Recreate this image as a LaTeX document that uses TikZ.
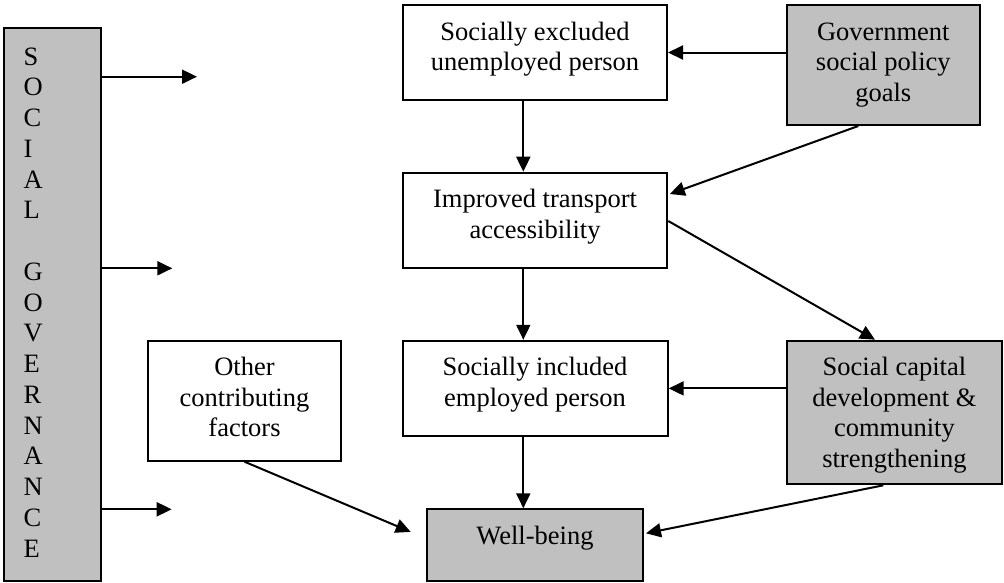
\documentclass[tikz,border=0pt]{standalone}
\usepackage{fontspec}
\setmainfont{Liberation Serif}
\usetikzlibrary{arrows.meta,calc}
\definecolor{boxgray}{HTML}{C0C0C0}
\begin{document}
\begin{tikzpicture}[x=1pt,y=-1pt,
  box/.style={draw=black, line width=2pt, inner sep=0pt, fill=white},
  graybox/.style={box, fill=boxgray},
  txt/.style={anchor=north, inner sep=0pt, align=center, font=\fontsize{26.5}{30.5}\selectfont},
  letter/.style={anchor=base west, inner sep=0pt, font=\fontsize{26.5}{30.5}\selectfont},
  arr/.style={line width=2pt, -{Triangle[length=15pt,width=14pt]}}]
\useasboundingbox (0,0) rectangle (1004,582);

% boxes
\node[graybox, minimum width=97pt, minimum height=553pt] (left) at (52.5,304.5) {};
\node[box, minimum width=264pt, minimum height=95pt] (socex) at (535,52.5) {};
\node[graybox, minimum width=193.3pt, minimum height=120pt] (gov) at (883.3,65) {};
\node[box, minimum width=264.6pt, minimum height=95.6pt] (impr) at (535,220.5) {};
\node[box, minimum width=265pt, minimum height=95.3pt] (socin) at (535.2,388.4) {};
\node[graybox, minimum width=215.3pt, minimum height=143.6pt] (socap) at (894.4,412.5) {};
\node[box, minimum width=192.4pt, minimum height=120pt] (other) at (244.5,400.7) {};
\node[graybox, minimum width=216.6pt, minimum height=71.2pt] (well) at (535,544.9) {};

% texts
\node[txt] (socexT) at (535,21) {\rule{0pt}{19pt}Socially excluded\\unemployed person};
\node[txt] (govT) at (883.3,21) {\rule{0pt}{19pt}Government\\social policy\\goals};
\node[txt] (imprT) at (535,188.7) {\rule{0pt}{19pt}Improved transport\\accessibility};
\node[txt] (socinT) at (535,356.7) {\rule{0pt}{19pt}Socially included\\employed person};
\node[txt] (socapT) at (894.4,356.7) {\rule{0pt}{19pt}Social capital\\development \&\\community\\strengthening};
\node[txt] (otherT) at (244.5,356.7) {\rule{0pt}{19pt}Other\\contributing\\factors};
\node[txt] (wellT) at (535,525.3) {\rule{0pt}{19pt}Well-being};

% vertical letters
\foreach \ch [count=\i from 0] in {S,O,C,I,A,L}
  \node[letter] (sg\i) at (23.5,65+30.75*\i) {\ch};
\foreach \ch [count=\i from 7] in {G,O,V,E,R,N,A,N,C,E}
  \node[letter] (sg\i) at (23.5,65+30.75*\i) {\ch};

% left arrows
\coordinate (la1) at (197,76.7);
\coordinate (la2) at (172.3,268.3);
\coordinate (la3) at (171.7,509.3);
\draw[arr] (left.east |- la1) -- (la1);
\draw[arr] (left.east |- la2) -- (la2);
\draw[arr] (left.east |- la3) -- (la3);

% connectors
\draw[arr] (gov.west |- socex.east) -- (socex.east);
\draw[arr] ($(socex.south)+(-11.7,0)$) -- ($(impr.north)+(-11.7,0)$);
\draw[arr] ($(gov.south)+(-25,0)$) -- ($(impr.east)+(1.5,-26.5)$);
\draw[arr] ($(impr.east)+(0,0.5)$) -- ($(socap.north)+(-19.4,0)$);
\draw[arr] ($(impr.south)+(-11.7,0)$) -- ($(socin.north)+(-11.9,0)$);
\draw[arr] (socap.west |- socin.east) -- (socin.east);
\draw[arr] ($(socin.south)+(-11.9,0)$) -- ($(well.north)+(-11.7,0)$);
\draw[arr] (other.south) -- ($(well.west)+(-15,-13)$);
\draw[arr] ($(socap.south)+(-11.1,0)$) -- ($(well.east)+(1.7,-11.6)$);
\end{tikzpicture}
\end{document}
